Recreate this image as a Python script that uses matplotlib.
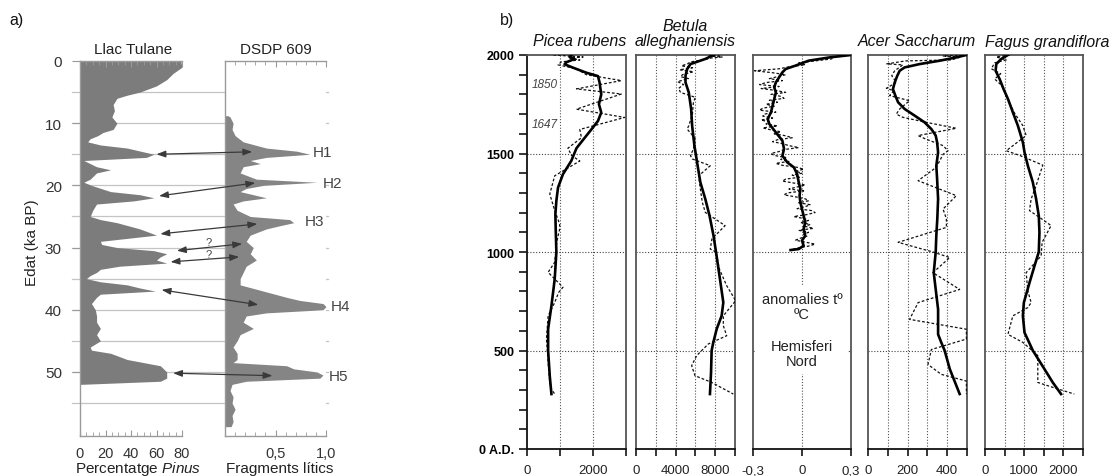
import matplotlib
matplotlib.use("Agg")
import matplotlib.pyplot as plt
from matplotlib.patches import ConnectionPatch
import numpy as np

plt.rcParams['font.family'] = ['Liberation Sans', 'DejaVu Sans']
plt.rcParams['mathtext.fontset'] = 'custom'
plt.rcParams['mathtext.rm'] = 'Liberation Sans'
plt.rcParams['mathtext.it'] = 'Liberation Sans:italic'

# ---- panel a) data ----
age_tul = [0, 1, 2, 3, 4, 5, 5.5, 6, 7, 8,
           9, 10, 11, 11.5, 12, 12.5, 13, 13.5, 14, 15,
           15.5, 16, 17, 17.5, 18, 19, 19.5, 20, 21, 21.5,
           22, 22.5, 23, 24, 25, 25.5, 26, 27, 28, 29,
           29.5, 30, 30.5, 31, 31.5, 32, 32.5, 33, 33.5, 34,
           34.5, 35, 35.5, 36, 36.5, 37, 37.5, 38, 39, 40,
           41, 42, 43, 44, 45, 46, 46.5, 47, 48, 48.5,
           49, 50, 51, 51.5, 52]
pinus = [79, 80, 73, 68, 60, 47, 37, 29, 26, 27,
         25, 29, 26, 18, 14, 8, 6, 16, 37, 58,
         52, 3, 13, 24, 13, 8, 3, 9, 24, 47,
         58, 42, 13, 10, 8, 16, 29, 47, 60, 16,
         17, 29, 58, 68, 63, 60, 68, 31, 16, 13,
         8, 5, 16, 37, 47, 59, 16, 13, 9, 12,
         13, 13, 16, 13, 16, 8, 9, 24, 37, 50,
         63, 68, 68, 63, 0]

age_dsdp = [8.8, 9, 10, 11, 12, 13, 14, 14.5, 15, 15.5,
            16, 16.5, 17, 18, 19, 19.5, 20, 20.5, 21, 22,
            22.5, 23, 24, 25, 25.5, 26, 26.5, 27, 28, 29,
            30, 31, 32, 33, 34, 35, 36, 37, 38, 38.5,
            39, 39.5, 40, 40.5, 41, 42, 43, 44, 45, 46,
            47, 48, 48.5, 49, 49.5, 50, 50.5, 51, 51.5, 52,
            53, 54, 55, 56, 57, 58, 58.8]
litics = [0.03, 0.05, 0.08, 0.07, 0.10, 0.18, 0.41, 0.71, 0.84, 0.41,
          0.25, 0.35, 0.18, 0.15, 0.31, 0.91, 0.38, 0.21, 0.15, 0.41,
          0.18, 0.08, 0.12, 0.25, 0.64, 0.68, 0.54, 0.41, 0.25, 0.21,
          0.28, 0.25, 0.31, 0.21, 0.18, 0.15, 0.15, 0.38, 0.61, 0.74,
          0.97, 1.0, 0.97, 0.41, 0.21, 0.18, 0.28, 0.15, 0.12, 0.08,
          0.12, 0.12, 0.08, 0.61, 0.68, 0.91, 0.97, 0.94, 0.21, 0.07,
          0.05, 0.08, 0.07, 0.10, 0.07, 0.08, 0.06]

# arrows: (pinus %, age) in Llac Tulane -> (litics, age) in DSDP 609
arrows = [((60, 15.0), (0.27, 14.6)),
          ((62, 21.7), (0.30, 19.6)),
          ((63, 27.8), (0.32, 26.2)),
          ((76, 30.5), (0.17, 29.4)),
          ((71, 32.3), (0.14, 31.5)),
          ((64, 36.8), (0.33, 39.2)),
          ((73, 50.2), (0.47, 50.6))]
h_labels = ["H1", "H2", "H3", "H4", "H5"]

# ---- panel b) data ----
pic_yr = [2000, 1990, 1980, 1963, 1953, 1936, 1910, 1893, 1860, 1800, 1750, 1708, 1665, 1622,
          1580, 1527, 1462, 1395, 1327, 1260, 1192, 1117, 1000, 863, 726, 609, 500, 370, 279]
pic_sm = [1350, 1290, 1440, 1190, 1140, 1390, 1800, 2150, 2200, 2250, 2180, 2250, 2150, 1950,
          1750, 1500, 1340, 1090, 940, 890, 860, 870, 890, 840, 740, 640, 640, 690, 740]
pic_raw_yr = [2000, 1990, 1985, 1975, 1965, 1950, 1930, 1900, 1870, 1828, 1802, 1725, 1683, 1622,
              1580, 1527, 1490, 1462, 1387, 1294, 1210, 1142, 1117, 1050, 948, 897, 863, 821,
              795, 744, 676, 558, 440, 338, 304, 279]
pic_raw = [800, 1700, 1300, 1600, 1040, 940, 1500, 1800, 2860, 1500, 2860, 1500, 2960, 1600,
           1650, 1240, 1350, 1600, 840, 690, 840, 990, 990, 900, 840, 640, 840, 1090,
           960, 840, 640, 590, 640, 690, 740, 840]

bet_yr = [2000, 1980, 1954, 1929, 1895, 1861, 1810, 1726, 1641, 1540, 1455, 1354, 1269, 1184,
          1083, 1000, 863, 744, 676, 609, 541, 500, 389, 279]
bet_sm = [7830, 7000, 5500, 5170, 5000, 5000, 5330, 5570, 5670, 5900, 6170, 6500, 7000, 7430,
          7830, 8080, 8480, 8820, 8650, 8150, 7810, 7640, 7580, 7470]
bet_raw_yr = [2000, 1995, 1990, 1985, 1975, 1965, 1955, 1945, 1935, 1925, 1915, 1900, 1890, 1880,
              1865, 1850, 1830, 1810, 1785, 1760, 1700, 1641, 1624, 1574, 1523, 1489, 1472, 1438,
              1387, 1320, 1252, 1201, 1134, 1100, 1066, 1015, 1000, 914, 829, 753, 676, 626,
              575, 533, 474, 423, 372, 338, 279]
bet_raw = [8500, 7400, 8700, 7600, 6800, 5500, 5200, 4600, 5700, 4400, 5800, 4700, 4500, 5300,
           4200, 4800, 4300, 4500, 6000, 5800, 5700, 5330, 5170, 6000, 5800, 5500, 5700, 7500,
           6330, 6500, 6700, 7000, 9000, 8330, 7670, 7500, 8080, 8420, 9160, 10070, 8820, 8820,
           9160, 7300, 6130, 5620, 5960, 7640, 9830]

tmp_yr = [2000, 1988, 1971, 1946, 1929, 1912, 1887, 1861, 1836, 1810, 1777, 1743, 1709, 1675,
          1650, 1607, 1565, 1523, 1489, 1455, 1430, 1396, 1354, 1320, 1286, 1252, 1218, 1184,
          1151, 1117, 1083, 1058, 1032, 1015, 1010]
tmp_sm = [0.30, 0.17, 0.04, -0.04, -0.10, -0.12, -0.14, -0.16, -0.17, -0.16, -0.17, -0.18,
          -0.19, -0.21, -0.20, -0.16, -0.12, -0.11, -0.12, -0.09, -0.05, -0.03, -0.02, -0.01,
          -0.015, -0.01, 0.0, 0.01, 0.02, 0.01, 0.02, 0.0, 0.01, -0.02, -0.07]
tmp_raw_yr = np.arange(2000, 1000, -10)
tmp_raw = [0.30, 0.20, 0.18, 0.08, -0.02, 0.02, -0.08, -0.14, -0.29, -0.18,
           -0.10, -0.15, -0.20, -0.12, -0.22, -0.26, -0.14, -0.25, -0.16, -0.10,
           -0.19, -0.13, -0.11, -0.20, -0.15, -0.22, -0.17, -0.24, -0.26, -0.16,
           -0.23, -0.24, -0.18, -0.25, -0.20, -0.22, -0.15, -0.24, -0.19, -0.13,
           -0.17, -0.10, -0.06, -0.15, -0.18, -0.12, -0.08, -0.02, -0.11, -0.14,
           -0.19, -0.17, -0.10, -0.13, -0.08, -0.16, -0.12, -0.03, 0.01, -0.04,
           0.00, -0.06, -0.01, -0.10, -0.12, -0.05, 0.02, -0.03, -0.08, 0.01,
           -0.09, -0.11, -0.04, 0.02, 0.04, -0.02, 0.05, 0.02, -0.03, 0.06,
           0.08, 0.03, -0.05, 0.01, 0.04, -0.01, 0.05, 0.02, 0.07, -0.02,
           0.04, 0.01, 0.03, -0.01, -0.04, 0.02, 0.08, 0.04, -0.03, -0.07]

ace_yr = [2000, 1988, 1971, 1954, 1937, 1920, 1895, 1861, 1827, 1794, 1760, 1726, 1692, 1658,
          1624, 1591, 1557, 1506, 1438, 1371, 1269, 1168, 1083, 1000, 895, 810, 709, 582,
          541, 500, 406, 279]
ace_sm = [497, 446, 362, 261, 185, 160, 148, 135, 126, 138, 152, 185, 236, 286,
          320, 342, 349, 354, 345, 349, 354, 350, 345, 342, 332, 342, 354, 354,
          370, 387, 413, 463]
ace_raw_yr = [2000, 1995, 1990, 1975, 1970, 1955, 1950, 1920, 1895, 1861, 1831, 1819, 1794,
              1768, 1726, 1700, 1684, 1658, 1628, 1591, 1574, 1540, 1514, 1497, 1430, 1362,
              1286, 1218, 1168, 1125, 1049, 1000, 972, 895, 810, 743, 658, 608, 558, 505,
              429, 379, 345, 279]
ace_raw = [500, 380, 470, 420, 190, 95, 176, 135, 120, 143, 93, 130, 109,
           210, 160, 143, 175, 295, 446, 253, 290, 379, 404, 380, 345, 253,
           446, 379, 396, 396, 152, 328, 413, 328, 463, 253, 210, 497, 497, 320,
           303, 370, 497, 497]

fag_yr = [2000, 1980, 1954, 1920, 1878, 1827, 1777, 1709, 1641, 1557, 1506, 1438, 1354, 1269,
          1184, 1100, 1000, 929, 844, 743, 676, 591, 500, 406, 338, 279]
fag_sm = [585, 415, 288, 271, 373, 474, 585, 711, 839, 966, 1008, 1093, 1220, 1304,
          1372, 1389, 1372, 1262, 1135, 991, 966, 1008, 1220, 1516, 1728, 1940]
fag_raw_yr = [2000, 1990, 1975, 1960, 1930, 1905, 1878, 1845, 1777, 1709, 1641, 1591, 1514,
              1489, 1441, 1337, 1269, 1210, 1176, 1134, 1049, 980, 895, 802, 743, 718, 676,
              582, 541, 474, 338, 313, 279]
fag_raw = [627, 288, 542, 246, 161, 400, 246, 430, 585, 740, 966, 1050, 542,
           900, 1474, 1304, 1177, 1135, 1389, 1686, 1457, 1431, 1050, 1093, 1177, 1093, 711,
           585, 966, 1347, 1347, 1728, 2278]

W, H = 1112, 477
fig = plt.figure(figsize=(W / 100, H / 100), dpi=100)


def rect(l, t, r, b):
    return [l / W, 1 - b / H, (r - l) / W, (b - t) / H]


def ftext(x, y, s, **kw):
    kw.setdefault('ha', 'center')
    kw.setdefault('va', 'center')
    fig.text(x / W, 1 - y / H, s, **kw)


# ================= panel a =================
gray_sp = '#9a9a9a'
ax_t = fig.add_axes(rect(80, 62, 182, 437))
ax_d = fig.add_axes(rect(225, 62, 326, 437))

ax_t.fill_betweenx(age_tul, 0, pinus, color='#7c7c7c', lw=0)
ax_d.fill_betweenx(age_dsdp, 0, litics, color='#858585', lw=0)

for ax in (ax_t, ax_d):
    ax.set_ylim(60.3, 0)
    ax.spines['right'].set_visible(False)
    for s in ('left', 'top', 'bottom'):
        ax.spines[s].set_color(gray_sp)
        ax.spines[s].set_linewidth(1.0)
    ax.tick_params(axis='x', which='both', direction='in', top=True, bottom=True,
                   color=gray_sp, labelsize=10.5, labelcolor='#333', pad=7)
    ax.tick_params(axis='x', which='major', length=4)
    ax.tick_params(axis='x', which='minor', length=3)

ax_t.set_xlim(0, 80)
ax_t.set_xticks([0, 20, 40, 60, 80])
ax_t.set_xticks(np.arange(0, 81, 5), minor=True)
ax_t.set_yticks(range(0, 60, 10))
ax_t.tick_params(axis='y', length=6, color=gray_sp, labelsize=11, labelcolor='#333', pad=7)

ax_d.set_xlim(0, 1.0)
ax_d.set_xticks([0.5, 1.0])
ax_d.set_xticklabels(['0,5', '1,0'])
ax_d.set_xticks(np.arange(0, 1.01, 0.1), minor=True)
ax_d.tick_params(axis='y', left=False, labelleft=False)

# horizontal guide lines every 5 ka across both columns
x0 = (72 - 80) / 102
x1 = (328 - 80) / 102
for a in range(5, 60, 5):
    ax_t.axhline(a, xmin=x0, xmax=x1, color='#c4c4c4', lw=0.9, clip_on=False, zorder=0)

for (pa, pb) in arrows:
    con = ConnectionPatch(xyA=pa, coordsA=ax_t.transData, xyB=pb, coordsB=ax_d.transData,
                          arrowstyle='<|-|>,head_length=0.6,head_width=0.22',
                          color='#3a3a3a', lw=0.9, mutation_scale=9, shrinkA=0, shrinkB=0)
    fig.add_artist(con)

h_pos = [(322, 153), (333, 184), (314, 222), (341, 307), (338, 377)]
for lab, (hx, hy) in zip(h_labels, h_pos):
    ftext(hx, hy, lab, fontsize=11, color='#444', ha='left' if False else 'center')
ftext(209, 243, '?', fontsize=8, color='#444')
ftext(209, 255, '?', fontsize=8, color='#444')

ftext(133, 50, 'Llac Tulane', fontsize=11, color='#222')
ftext(276, 50, 'DSDP 609', fontsize=11, color='#222')
ftext(32, 243, 'Edat (ka BP)', fontsize=11, color='#222', rotation=90)
ftext(138, 469, 'Percentatge $\\it{Pinus}$', fontsize=11, color='#222')
ftext(280, 469, 'Fragments lítics', fontsize=11, color='#222')
ftext(17, 20, 'a)', fontsize=11.5, color='#111')

# ================= panel b =================
ftext(507, 20, 'b)', fontsize=11.5, color='#111')

panels = [
    dict(lr=(527, 626), xlim=(0, 3000), ticks=[0, 1000, 2000, 3000],
         labels=['0', '', '2000', ''], grid=[1000, 2000],
         sm=(pic_sm, pic_yr), raw=(pic_raw, pic_raw_yr)),
    dict(lr=(636, 735), xlim=(0, 10000), ticks=[0, 2000, 4000, 6000, 8000, 10000],
         labels=['0', '', '4000', '', '8000', ''], grid=[2000, 4000, 6000, 8000],
         sm=(bet_sm, bet_yr), raw=(bet_raw, bet_raw_yr)),
    dict(lr=(753, 851), xlim=(-0.3, 0.3), ticks=[-0.3, 0, 0.3],
         labels=['-0,3', '0', '0,3'], grid=[0],
         sm=(tmp_sm, tmp_yr), raw=(tmp_raw, tmp_raw_yr)),
    dict(lr=(868, 967), xlim=(0, 500), ticks=[0, 100, 200, 300, 400, 500],
         labels=['0', '', '200', '', '400', ''], grid=[100, 200, 300, 400],
         sm=(ace_sm, ace_yr), raw=(ace_raw, ace_raw_yr)),
    dict(lr=(985, 1083), xlim=(0, 2500), ticks=[0, 500, 1000, 1500, 2000, 2500],
         labels=['0', '', '1000', '', '2000', ''], grid=[500, 1000, 1500, 2000],
         sm=(fag_sm, fag_yr), raw=(fag_raw, fag_raw_yr)),
]

dot = (0, (1, 1.6))
axes_b = []
for i, p in enumerate(panels):
    l, r = p['lr']
    ax = fig.add_axes(rect(l, 56, r, 450))
    axes_b.append(ax)
    ax.set_xlim(*p['xlim'])
    ax.set_ylim(0, 2000)
    for y in (500, 1000, 1500):
        ax.axhline(y, color='#444', lw=0.8, ls=dot, zorder=1)
    for g in p['grid']:
        ax.axvline(g, color='#555', lw=0.8, ls=dot, zorder=1)
    ax.plot(p['raw'][0], p['raw'][1], color='#111', lw=0.9, ls=(0, (2.2, 1.6)), zorder=3)
    ax.plot(p['sm'][0], p['sm'][1], color='#000', lw=1.9, zorder=4)
    for s in ('left', 'right', 'top'):
        ax.spines[s].set_color('#555')
        ax.spines[s].set_linewidth(1.3)
    ax.spines['bottom'].set_color('#111')
    ax.spines['bottom'].set_linewidth(1.3)
    ax.set_xticks(p['ticks'])
    ax.set_xticklabels(p['labels'])
    ax.tick_params(axis='x', direction='out', length=5, width=1.1, labelsize=9.5,
                   labelcolor='#222', pad=6)
    if i == 0:
        ax.set_yticks([0, 500, 1000, 1500, 2000])
        ax.set_yticklabels(['0 A.D.', '500', '1000', '1500', '2000'],
                           fontweight='bold', fontsize=9)
        ax.set_yticks(np.arange(0, 2001, 100), minor=True)
        ax.tick_params(axis='y', which='both', direction='out', length=6, width=1.1, pad=3)
        ax.spines['left'].set_color('#111')
    else:
        ax.tick_params(axis='y', which='both', left=False, labelleft=False)

# annotations inside panels
axes_b[0].text(150, 1853, '1850', fontsize=8.5, style='italic', color='#444', va='center')
axes_b[0].text(150, 1650, '1647', fontsize=8.5, style='italic', color='#444', va='center')
axes_b[2].text(0, 604, 'anomalies tº\nºC\n\nHemisferi\nNord', fontsize=10.5, color='#222',
               ha='center', va='center', linespacing=1.15, zorder=5,
               bbox=dict(facecolor='white', edgecolor='none', pad=4))

title_kw = dict(fontsize=11.5, style='italic', color='#111')
ftext(580, 42, 'Picea rubens', **title_kw)
ftext(685, 34, 'Betula\nalleghaniensis', linespacing=1.05, **title_kw)
ftext(917, 42, 'Acer Saccharum', **title_kw)
ftext(1047, 42, 'Fagus grandiflora', **title_kw)

fig.savefig('out.png', dpi=100)
